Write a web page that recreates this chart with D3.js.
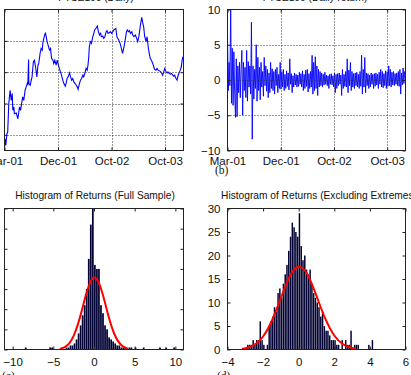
<!DOCTYPE html>
<html>
<head>
<meta charset="utf-8">
<script src="https://cdn.jsdelivr.net/npm/d3@7"></script>
<style>
body{margin:0;background:#fff;}
svg text{font-family:"Liberation Sans",Arial,sans-serif;}
</style>
</head>
<body>
<svg id="chart" width="411" height="375"></svg>
<script>
// ---- data ----
var dateTicks = [0, 200, 400, 600];
var dateLabels = ["Mar-01", "Dec-01", "Oct-02", "Oct-03"];
var nDays = 669;

// (a) index level, trading day number
var priceDay = [0,2,5,9,12,16,21,25,29,31,35,37,44,50,56,60,65,68,72,77,81,85,87,90,91,96,100,103,108,112,
  116,121,125,128,133,137,141,143,147,151,153,156,159,163,168,172,176,181,184,188,193,197,200,205,209,213,218,222,227,230,
  234,238,243,247,251,255,259,264,268,271,275,280,284,288,293,296,300,305,309,312,315,317,321,325,330,334,337,342,347,351,
  355,359,362,367,371,375,380,383,387,392,396,400,405,408,412,416,420,423,427,432,437,441,444,448,452,456,459,463,467,471,
  476,479,484,489,494,498,502,504,508,513,517,520,524,529,533,537,542,545,549,554,558,561,566,570,574,579,584,588,591,595,
  599,604,608,611,616,620,624,629,632,636,641,645,649,654,657,661,664,667];
var priceVal = [2803,2937,2830,3017,3044,3498,3712,3551,3658,3391,3444,3338,3348,3257,3444,3391,3525,3605,3551,3712,
  3765,3818,3792,4203,3818,3792,3872,3925,4166,4192,4086,3925,4112,4139,4299,4379,4353,4459,4540,4604,
  4620,4566,4486,4433,4353,4379,4219,4192,4139,4192,4112,4192,4139,4059,4005,3952,3872,3818,3776,3818,
  3899,3925,3989,3925,3872,3899,3845,3818,3792,3776,3728,3818,3872,3899,3952,3925,3979,4059,4032,4112,
  4246,4406,4486,4459,4566,4620,4673,4700,4737,4646,4593,4620,4566,4577,4540,4566,4646,4662,4620,4630,
  4646,4620,4646,4673,4684,4700,4566,4540,4513,4459,4379,4299,4353,4433,4540,4646,4673,4646,4662,4620,
  4646,4593,4566,4593,4540,4486,4566,4620,4753,4876,4780,4727,4566,4486,4566,4406,4272,4219,4192,4139,
  4086,4043,4032,4059,4032,4021,4005,3979,3952,4005,4059,4005,3989,4005,3979,3968,3979,3952,3936,3952,
  3899,3872,3952,4005,4032,4086,4192,4246];
var priceTicks = [3000, 3500, 4000, 4500];

// (b) daily return in %, one value every retStep days
var retStep = 3;
var returns = [6.2,-1.5,2.5,-0.8, 10.5,-3.3,4.5,-3.6, 4.0,-2.0,-5.3,3.0, -5.2,2.0,-1.8,2.5,
  -2.5,1.5,4.2,-5.0, 2.5,-1.5,1.8,-2.5, 4.2,-3.0,2.6,-1.0, 2.0,-2.0,8.2,-8.4,
  2.0,-2.7,1.5,-1.2, 5.0,-3.0,3.2,-1.5, 1.8,-2.8,2.5,-1.0, 1.2,-2.3,3.2,-0.8,
  2.0,-1.6,1.5,-2.5, 1.0,-1.8,2.5,-1.2, 1.6,-1.5,1.2,-2.0, 1.5,-0.8,1.8,-1.8,
  0.8,-1.2,2.5,-1.3, 1.2,-1.0,1.5,-1.5, 0.8,-1.2,1.3,-0.9, 1.0,-1.4,3.0,-0.6,
  0.9,-1.8,0.6,-1.0, 1.0,-0.7,0.8,-1.0, 0.7,-0.9,1.1,-0.6, 0.9,-1.0,1.3,-1.5,
  0.8,-1.2,1.4,-0.9, 1.5,-1.7,0.9,-1.2, 1.2,-1.0,3.5,-2.0, 2.5,-1.5,3.3,-1.2,
  2.0,-2.2,1.5,-1.0, 1.2,-0.8,1.0,-1.0, 0.8,-0.7,1.1,-0.6, 0.7,-0.8,0.6,-1.2,
  0.8,-0.6,0.9,-0.7, 0.6,-1.0,1.0,-1.8, 0.8,-1.2,0.9,-0.8, 1.0,-0.6,0.7,-2.2,
  1.5,-1.2,0.8,-0.9, 1.2,-1.0,3.0,-1.8, 1.4,-0.8,2.5,-1.5, 1.2,-1.0,0.9,-1.2,
  1.0,-0.8,1.1,-1.0, 0.8,-1.2,1.2,-0.9, 3.5,-2.0,1.5,-1.0, 3.2,-1.8,1.0,-0.8,
  0.9,-1.2,0.7,-1.0, 1.0,-0.6,0.8,-1.2, 0.9,-0.9,1.0,-0.7, 0.8,-1.2,1.1,-0.6,
  1.5,-1.0,1.2,-1.1, 0.9,-0.8,1.3,-1.2, 1.2,-0.9,2.0,-0.8, 1.5,-1.0,1.1,-0.7,
  1.2,-0.8,0.9,-0.6, 1.0,-0.8,1.2,-0.9, 1.5,-2.0,1.0,-0.7, 1.7,-0.5,1.2,0.8];
var retTicks = [-10, -5, 0, 5, 10];

// (c) histogram, full sample
var cBinWidth = 0.25;
var cBinStart = -4.0;
var cCounts = [1,0,1,1,2,2,3,5,8,12,17,22,30,45,62,70,42,40,40,22,18,12,10,6,5,4,3,2,2,1,1,1,0,1];
var cExtraStart = [-8.5, -5.5, -5.25, 4.5, 5.0, 6.0, 8.0, 8.75, 9.75];
var cExtraCount = [1, 1, 1, 1, 1, 1, 1, 1, 1];
var cFitX = [-4.2,-4,-3.5,-3,-2.5,-2,-1.5,-1,-0.5,0,0.5,1,1.5,2,2.5,3,3.5,4,4.2];
var cFitY = [0.36,0.55,1.43,3.3,6.8,12.2,19.3,27.0,33.0,35.7,33.9,28.4,20.9,13.5,7.7,3.9,1.7,0.67,0.44];
var cXTicks = [-10, -5, 0, 5, 10];
var cYTicks = [0, 10, 20, 30, 40, 50, 60, 70];

// (d) histogram, extremes removed
var dBinWidth = 0.1;
var dBinStart = -2.9;
var dCounts = [1,1,1,2,1,2,2,6,2,1,0,1,5,6,7,9,8,12,13,11,14,16,18,21,24,27,26,25,24,
  29,22,19,20,17,16,17,14,12,11,10,9,7,8,5,4,4,3,2,2,2,1,1,0,2,0,2,1,1,4,0,1,1,1,0,0,0,0,0,1,0,2];
var dFitX = [-3.2,-3,-2.5,-2,-1.5,-1,-0.5,0,0.5,1,1.5,2,2.5,3,3.2];
var dFitY = [0.16,0.28,0.99,2.77,6.17,10.98,15.6,17.6,15.9,11.4,6.5,2.97,1.08,0.31,0.18];
var dXTicks = [-4, -2, 0, 2, 4, 6];
var dYTicks = [0, 5, 10, 15, 20, 25, 30];

// ---- drawing ----
var svg = d3.select("#chart");
var barColor = "#000033";

function panel(id, box, xdom, ydom) {
  var x = d3.scaleLinear().domain(xdom).range([box.l, box.r]);
  var y = d3.scaleLinear().domain(ydom).range([box.b, box.t]);
  svg.append("clipPath").attr("id", "clip" + id)
    .append("rect").attr("x", box.l).attr("y", box.t).attr("width", box.r - box.l).attr("height", box.b - box.t);
  var g = svg.append("g");
  var plot = g.append("g").attr("clip-path", "url(#clip" + id + ")");
  return {x: x, y: y, g: g, plot: plot, box: box};
}

// y labels of the left column fall outside the page in the original, so they are left out there
function axes(p, xt, xl, yt, xpad, yLabels) {
  var b = p.box;
  var fmtX = xl ? function(d, i){ return xl[i]; } : d3.format("d");
  p.g.append("g").attr("transform", "translate(0," + b.b + ")")
    .call(d3.axisBottom(p.x).tickValues(xt).tickFormat(fmtX).tickSizeInner(-3).tickSizeOuter(0).tickPadding(xpad));
  p.g.append("g").attr("transform", "translate(0," + b.t + ")")
    .call(d3.axisTop(p.x).tickValues(xt).tickFormat("").tickSizeInner(-3).tickSizeOuter(0));
  p.g.append("g").attr("transform", "translate(" + b.l + ",0)")
    .call(d3.axisLeft(p.y).tickValues(yt).tickFormat(yLabels ? d3.format("d") : "").tickSizeInner(-3).tickSizeOuter(0).tickPadding(7));
  p.g.append("g").attr("transform", "translate(" + b.r + ",0)")
    .call(d3.axisRight(p.y).tickValues(yt).tickFormat("").tickSizeInner(-3).tickSizeOuter(0));
  p.g.selectAll(".domain").remove();
  p.g.selectAll(".tick line").attr("stroke", "#222");
  p.g.selectAll(".tick text").attr("font-size", 11.5).attr("fill", "#111")
    .attr("font-family", "'Liberation Sans', Arial, sans-serif");
}

function grid(p, xt, yt) {
  var b = p.box;
  p.g.selectAll(null).data(xt.filter(function(d){ return p.x(d) > b.l + 1 && p.x(d) < b.r - 1; }))
    .enter().append("line")
    .attr("x1", function(d){ return Math.round(p.x(d)) + 0.5; }).attr("x2", function(d){ return Math.round(p.x(d)) + 0.5; })
    .attr("y1", b.t).attr("y2", b.b)
    .attr("stroke", "#333").attr("stroke-dasharray", "1,2");
  p.g.selectAll(null).data(yt.filter(function(d){ return p.y(d) > b.t + 1 && p.y(d) < b.b - 1; }))
    .enter().append("line")
    .attr("y1", function(d){ return Math.round(p.y(d)) + 0.5; }).attr("y2", function(d){ return Math.round(p.y(d)) + 0.5; })
    .attr("x1", b.l).attr("x2", b.r)
    .attr("stroke", "#333").attr("stroke-dasharray", "1,2");
}

function border(p) {
  var b = p.box;
  p.g.append("rect").attr("x", b.l).attr("y", b.t).attr("width", b.r - b.l).attr("height", b.b - b.t)
    .attr("fill", "none").attr("stroke", "#222").attr("stroke-width", 1);
}

function title(txt, cx, y) {
  svg.append("text").attr("x", cx).attr("y", y).attr("text-anchor", "middle")
    .attr("font-size", 10.2).attr("fill", "#111").text(txt);
}

function subLabel(txt, x, y) {
  svg.append("text").attr("x", x).attr("y", y).attr("font-size", 11.5)
    .style("font-family", "'Liberation Serif', 'Times New Roman', serif").attr("fill", "#111").text(txt);
}

function bars(p, starts, counts, bw) {
  p.plot.selectAll(null).data(starts.map(function(s, i){ return {s: s, c: counts[i]}; }).filter(function(d){ return d.c > 0; }))
    .enter().append("rect")
    .attr("x", function(d){ return p.x(d.s); })
    .attr("width", function(d){ return Math.max(0.6, p.x(d.s + bw) - p.x(d.s) - 0.3); })
    .attr("y", function(d){ return p.y(d.c); })
    .attr("height", function(d){ return p.y(0) - p.y(d.c); })
    .attr("fill", barColor);
}

function fit(p, xs, ys) {
  var line = d3.line().x(function(d){ return p.x(d[0]); }).y(function(d){ return p.y(d[1]); }).curve(d3.curveNatural);
  p.plot.append("path").datum(xs.map(function(v, i){ return [v, ys[i]]; }))
    .attr("d", line).attr("fill", "none").attr("stroke", "#ff0000").attr("stroke-width", 2);
}

// (a)
var pa = panel("a", {l: 4.5, r: 183.5, t: 9.5, b: 150.5}, [0, nDays], [2750, 5000]);
grid(pa, dateTicks, priceTicks);
pa.plot.append("path")
  .datum(priceDay.map(function(d, i){ return [d, priceVal[i]]; }))
  .attr("d", d3.line().x(function(d){ return pa.x(d[0]); }).y(function(d){ return pa.y(d[1]); }))
  .attr("fill", "none").attr("stroke", "#0000ff").attr("stroke-width", 1.1);
axes(pa, dateTicks, dateLabels, priceTicks, 6, false);
border(pa);
title("FTSE100 (Daily)", 96, 0.8);

// (b)
var pb = panel("b", {l: 227.5, r: 405.5, t: 9.5, b: 150.5}, [0, nDays], [-10, 10]);
grid(pb, dateTicks, retTicks);
pb.plot.append("path")
  .datum(returns)
  .attr("d", d3.line().x(function(d, i){ return pb.x(i * retStep); }).y(function(d){ return pb.y(d); }))
  .attr("fill", "none").attr("stroke", "#0000ff").attr("stroke-width", 0.9);
axes(pb, dateTicks, dateLabels, retTicks, 6, true);
border(pb);
title("FTSE100 (Daily return)", 315, 0.8);
subLabel("(b)", 215, 174);

// (c)
var pc = panel("c", {l: 4.5, r: 183.5, t: 208.5, b: 349.5}, [-11, 11], [0, 70]);
bars(pc, cCounts.map(function(c, i){ return cBinStart + i * cBinWidth; }), cCounts, cBinWidth);
bars(pc, cExtraStart, cExtraCount, cBinWidth);
fit(pc, cFitX, cFitY);
axes(pc, cXTicks, null, cYTicks, 8, false);
border(pc);
title("Histogram of Returns (Full Sample)", 95, 199);
subLabel("(c)", 2, 380);

// (d)
var pd = panel("d", {l: 227.5, r: 405.5, t: 208.5, b: 349.5}, [-4, 6], [0, 30]);
bars(pd, dCounts.map(function(c, i){ return dBinStart + i * dBinWidth; }), dCounts, dBinWidth);
fit(pd, dFitX, dFitY);
axes(pd, dXTicks, null, dYTicks, 8, true);
border(pd);
title("Histogram of Returns (Excluding Extremes)", 319, 199);
subLabel("(d)", 217, 380);
</script>
</body>
</html>
